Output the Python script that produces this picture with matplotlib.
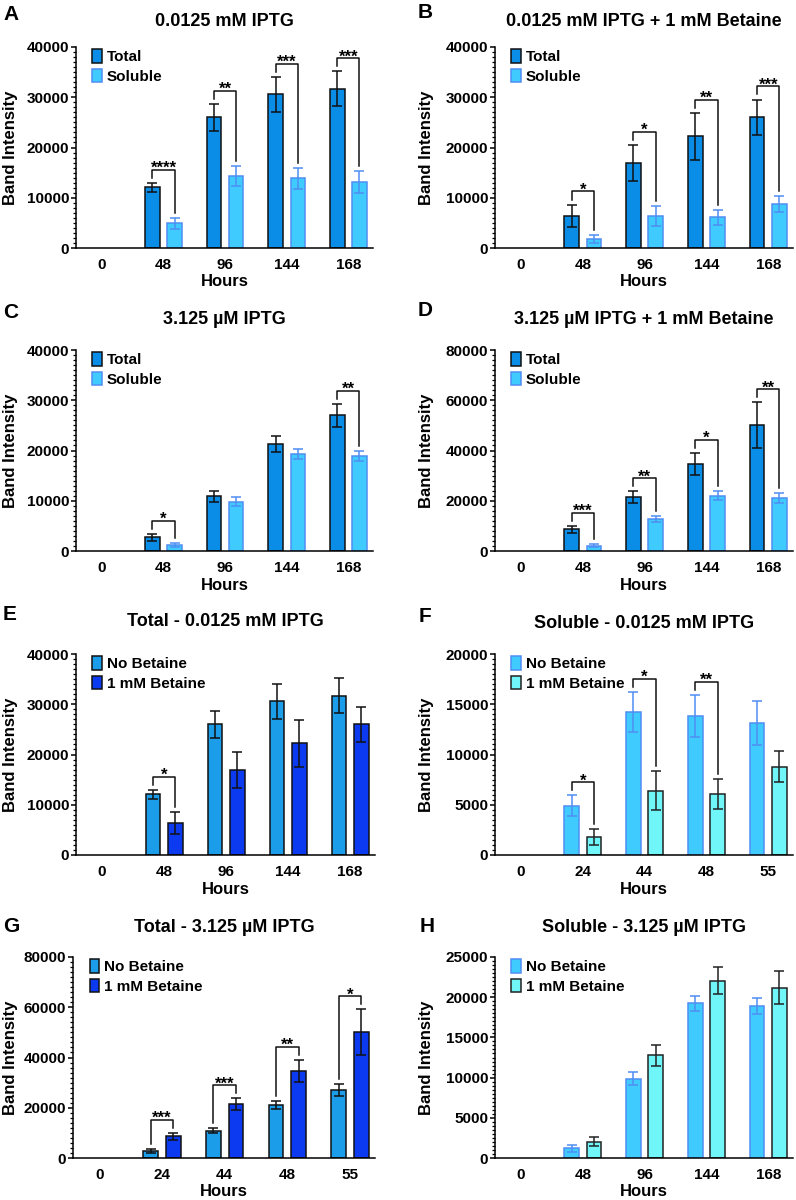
import matplotlib
matplotlib.use('Agg')
import matplotlib.pyplot as plt
import numpy as np
from matplotlib.ticker import MultipleLocator

plt.rcParams['font.family'] = ['Liberation Sans', 'DejaVu Sans']
plt.rcParams['font.weight'] = 'bold'
plt.rcParams['axes.labelweight'] = 'bold'

# ---------------- data ----------------
hours_long = ['0', '48', '96', '144', '168']
hours_short = ['0', '24', '44', '48', '55']

total_lo = [0, 12050, 26000, 30600, 31700]
total_lo_err = [0, 870, 2700, 3450, 3450]
total_lo_bet = [0, 6400, 16900, 22200, 26000]
total_lo_bet_err = [0, 2250, 3600, 4750, 3550]
sol_lo = [0, 4900, 14250, 13850, 13100]
sol_lo_err = [0, 1050, 2000, 2100, 2200]
sol_lo_bet = [0, 1800, 6400, 6100, 8800]
sol_lo_bet_err = [0, 800, 1950, 1500, 1550]
total_hi = [0, 2700, 10850, 21250, 27000]
total_hi_err = [0, 750, 1000, 1550, 2300]
total_hi_bet = [0, 8600, 21400, 34700, 50150]
total_hi_bet_err = [0, 1400, 2400, 4400, 9100]
sol_hi = [0, 1200, 9850, 19250, 18900]
sol_hi_err = [0, 450, 800, 950, 1000]
sol_hi_bet = [0, 2050, 12800, 22050, 21150]
sol_hi_bet_err = [0, 580, 1300, 1650, 2050]

sig_A = ['', '****', '**', '***', '***']
sig_B = ['', '*', '*', '**', '***']
sig_C = ['', '*', '', '', '**']
sig_D = ['', '***', '**', '*', '**']
sig_E = ['', '*', '', '', '']
sig_F = ['', '*', '*', '**', '']
sig_G = ['', '***', '***', '**', '*']
sig_H = ['', '', '', '', '']

# ---------------- styles ----------------
ST_TOTAL = dict(fc='#0A8DE6', ec='#111111', err='#111111')
ST_SOL = dict(fc='#3FCBFD', ec='#4F8EF2', err='#4F8EF2')
ST_NOB = dict(fc='#1C9DEA', ec='#111111', err='#111111')
ST_BET = dict(fc='#0B3AF0', ec='#111111', err='#111111')
ST_CYAN = dict(fc='#70F6F8', ec='#222222', err='#222222')

W, H = 796, 1200
fig = plt.figure(figsize=(W / 100, H / 100), dpi=100)


def panel(letter, letter_xy, title, title_y, rect, ylab_x, xlabels, ymax, major,
          s1, e1, st1, lab1, s2, e2, st2, lab2, sig):
    l, t, r, b = rect
    ax = fig.add_axes([l / W, 1 - b / H, (r - l) / W, (b - t) / H])
    x = np.arange(len(xlabels))
    off, w = 0.18, 0.235
    v1, v2 = np.array(s1, float), np.array(s2, float)
    er1, er2 = np.array(e1, float), np.array(e2, float)
    for vals, errs, st, sgn, lab in [(v1, er1, st1, -1, lab1), (v2, er2, st2, 1, lab2)]:
        m = vals > 0
        ax.bar(x[m] + sgn * off, vals[m], w, color=st['fc'], edgecolor=st['ec'],
               linewidth=1.1, label=lab, zorder=2)
        ax.errorbar(x[m] + sgn * off, vals[m], yerr=errs[m], fmt='none',
                    ecolor=st['err'], elinewidth=1.1, capsize=3.5, capthick=1.1, zorder=3)
    for i, s in enumerate(sig):
        if not s:
            continue
        t1 = v1[i] + er1[i]
        t2 = v2[i] + er2[i]
        yb = max(t1, t2) + 0.065 * ymax
        g = 0.025 * ymax
        ax.plot([x[i] - off, x[i] - off, x[i] + off, x[i] + off],
                [t1 + g, yb, yb, t2 + g], color='#111111', lw=1.1, zorder=4)
        ax.annotate(s, (x[i], yb), xytext=(0, -4.5), textcoords='offset points',
                    ha='center', va='bottom', fontsize=12, fontweight='bold')
    ax.set_xlim(-0.42, 4.4)
    ax.set_ylim(0, ymax)
    ax.yaxis.set_major_locator(MultipleLocator(major))
    ax.yaxis.set_minor_locator(MultipleLocator(major / 10))
    ax.set_xticks(x)
    ax.set_xticklabels(xlabels)
    ax.tick_params(axis='x', length=0, pad=7, labelsize=11)
    ax.tick_params(axis='y', which='major', length=3.5, width=1.1, pad=1.5, labelsize=11)
    ax.tick_params(axis='y', which='minor', length=2, width=0.9)
    for lbl in ax.get_xticklabels() + ax.get_yticklabels():
        lbl.set_fontweight('bold')
    for sp in ['top', 'right']:
        ax.spines[sp].set_visible(False)
    for sp in ['left', 'bottom']:
        ax.spines[sp].set_linewidth(1.1)
    ax.set_xlabel('Hours', fontsize=12, fontweight='bold', labelpad=2)
    ax.set_ylabel('Band Intensity', fontsize=12, fontweight='bold')
    ax.yaxis.set_label_coords((ylab_x - l) / (r - l), 0.5)
    ax.legend(loc='upper left', bbox_to_anchor=(0.055, 0.99), frameon=False,
              borderpad=0, borderaxespad=0, handlelength=0.6, handleheight=1.0,
              handletextpad=0.35, labelspacing=0.3,
              prop={'size': 11, 'weight': 'bold'})
    fig.text((l + r) / 2 / W, 1 - title_y / H, title, ha='center', va='center',
             fontsize=13, fontweight='bold')
    fig.text(letter_xy[0] / W, 1 - letter_xy[1] / H, letter, ha='left', va='center',
             fontsize=15, fontweight='bold')
    return ax


panel('A', (3, 14), '0.0125 mM IPTG', 22, (76, 47, 373, 248), 18, hours_long, 40000, 10000,
      total_lo, total_lo_err, ST_TOTAL, 'Total', sol_lo, sol_lo_err, ST_SOL, 'Soluble', sig_A)
panel('B', (418, 12), '0.0125 mM IPTG + 1 mM Betaine', 22, (495, 47, 793, 248), 434, hours_long, 40000, 10000,
      total_lo_bet, total_lo_bet_err, ST_TOTAL, 'Total', sol_lo_bet, sol_lo_bet_err, ST_SOL, 'Soluble', sig_B)
panel('C', (3, 312), '3.125 \u00b5M IPTG', 320, (76, 350, 373, 551), 18, hours_long, 40000, 10000,
      total_hi, total_hi_err, ST_TOTAL, 'Total', sol_hi, sol_hi_err, ST_SOL, 'Soluble', sig_C)
panel('D', (418, 311), '3.125 \u00b5M IPTG + 1 mM Betaine', 320, (495, 350, 793, 551), 434, hours_long, 80000, 20000,
      total_hi_bet, total_hi_bet_err, ST_TOTAL, 'Total', sol_hi_bet, sol_hi_bet_err, ST_SOL, 'Soluble', sig_D)
panel('E', (3, 615), 'Total - 0.0125 mM IPTG', 622, (76, 654, 375, 855), 18, hours_long, 40000, 10000,
      total_lo, total_lo_err, ST_NOB, 'No Betaine', total_lo_bet, total_lo_bet_err, ST_BET, '1 mM Betaine', sig_E)
panel('F', (419, 616), 'Soluble - 0.0125 mM IPTG', 623, (495, 654, 793, 855), 434, hours_short, 20000, 5000,
      sol_lo, sol_lo_err, ST_SOL, 'No Betaine', sol_lo_bet, sol_lo_bet_err, ST_CYAN, '1 mM Betaine', sig_F)
panel('G', (3, 927), 'Total - 3.125 \u00b5M IPTG', 927, (73, 957, 375, 1158), 18, hours_short, 80000, 20000,
      total_hi, total_hi_err, ST_NOB, 'No Betaine', total_hi_bet, total_hi_bet_err, ST_BET, '1 mM Betaine', sig_G)
panel('H', (420, 927), 'Soluble - 3.125 \u00b5M IPTG', 927, (495, 957, 793, 1158), 434, hours_long, 25000, 5000,
      sol_hi, sol_hi_err, ST_SOL, 'No Betaine', sol_hi_bet, sol_hi_bet_err, ST_CYAN, '1 mM Betaine', sig_H)

fig.savefig('out.png', dpi=100)
